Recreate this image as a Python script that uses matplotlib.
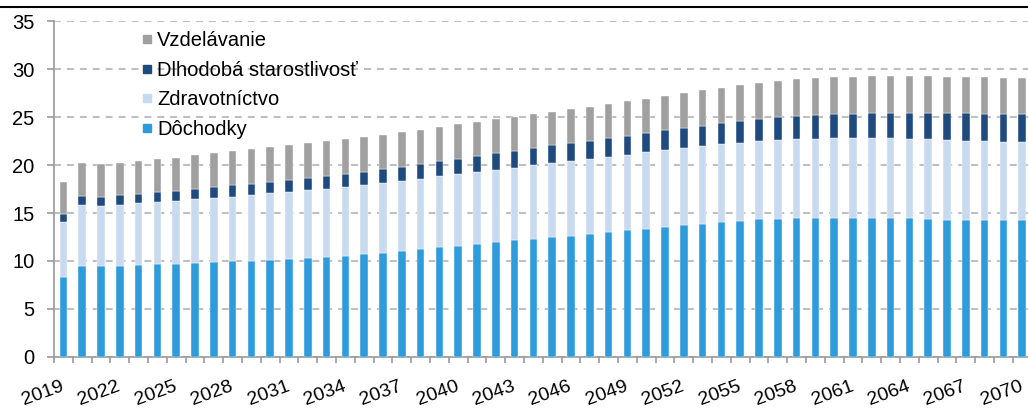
import matplotlib
matplotlib.use("Agg")
import matplotlib.pyplot as plt
import matplotlib.transforms as mtransforms
from matplotlib.lines import Line2D
import numpy as np

plt.rcParams['font.family'] = ['Liberation Sans', 'DejaVu Sans']
plt.rcParams['lines.scale_dashes'] = False

years = list(range(2019, 2071))

dochodky = [8.37, 9.51, 9.51, 9.51, 9.62, 9.72, 9.72, 9.83, 9.90, 10.00,
            10.03, 10.14, 10.24, 10.35, 10.45, 10.56, 10.69, 10.87, 11.00, 11.20,
            11.42, 11.60, 11.80, 11.94, 12.17, 12.33, 12.50, 12.64, 12.85, 13.06,
            13.23, 13.37, 13.58, 13.72, 13.89, 14.10, 14.20, 14.34, 14.41, 14.48,
            14.48, 14.48, 14.48, 14.48, 14.48, 14.45, 14.38, 14.31, 14.31, 14.27,
            14.24, 14.24]
zdravotnictvo = [5.69, 6.36, 6.22, 6.36, 6.42, 6.43, 6.57, 6.59, 6.66, 6.70,
                 6.81, 6.91, 6.95, 7.01, 7.09, 7.11, 7.19, 7.22, 7.33, 7.38,
                 7.40, 7.46, 7.47, 7.54, 7.55, 7.64, 7.67, 7.78, 7.78, 7.77,
                 7.85, 7.95, 7.95, 8.02, 8.06, 8.05, 8.13, 8.16, 8.19, 8.23,
                 8.26, 8.30, 8.33, 8.33, 8.30, 8.29, 8.29, 8.29, 8.22, 8.23,
                 8.19, 8.16]
dlhodoba = [0.84, 0.90, 0.94, 0.97, 0.94, 1.04, 1.04, 1.08, 1.11, 1.18,
            1.18, 1.18, 1.25, 1.32, 1.35, 1.43, 1.43, 1.46, 1.50, 1.56,
            1.60, 1.60, 1.70, 1.77, 1.77, 1.80, 1.88, 1.87, 1.91, 2.02,
            1.99, 2.05, 2.07, 2.15, 2.15, 2.19, 2.25, 2.29, 2.40, 2.39,
            2.47, 2.53, 2.50, 2.61, 2.64, 2.68, 2.75, 2.82, 2.85, 2.81,
            2.88, 2.91]
vzdelavanie = [3.36, 3.40, 3.40, 3.33, 3.40, 3.40, 3.43, 3.51, 3.55, 3.58,
               3.61, 3.65, 3.64, 3.61, 3.61, 3.57, 3.64, 3.58, 3.57, 3.54,
               3.57, 3.58, 3.54, 3.58, 3.54, 3.51, 3.47, 3.51, 3.50, 3.47,
               3.56, 3.54, 3.62, 3.58, 3.68, 3.72, 3.72, 3.75, 3.75, 3.82,
               3.82, 3.82, 3.86, 3.82, 3.85, 3.85, 3.82, 3.78, 3.79, 3.82,
               3.79, 3.72]

labels = ['Dôchodky', 'Zdravotníctvo', 'Dlhodobá starostlivosť', 'Vzdelávanie']
colors = ['#2E9BDC', '#C8DAF0', '#1F4A7E', '#A0A0A0']

W, H = 1028, 412
fig = plt.figure(figsize=(W / 100, H / 100), dpi=100)
left_px, right_px, bottom_px, top_px = 54, 1031.6, 357, 21
ax = fig.add_axes([left_px / W, (H - bottom_px) / H,
                   (right_px - left_px) / W, (bottom_px - top_px) / H])

x = np.arange(len(years))
bottom = np.zeros(len(years))
for vals, lab, col in zip([dochodky, zdravotnictvo, dlhodoba, vzdelavanie], labels, colors):
    ax.bar(x, vals, width=0.4, bottom=bottom, color=col, label=lab,
           edgecolor='white', linewidth=0.3, zorder=3)
    bottom += np.array(vals)

ax.set_xlim(-0.5, len(years) - 0.5)
ax.set_ylim(0, 35)
ax.set_yticks(range(0, 36, 5))
ax.yaxis.grid(True, color='#BFBFBF', linewidth=1.5, linestyle=(0, (5, 4.3)), zorder=0)
ax.set_axisbelow(True)

for s in ['top', 'right']:
    ax.spines[s].set_visible(False)
for s in ['left', 'bottom']:
    ax.spines[s].set_color('#999999')
    ax.spines[s].set_linewidth(1.2)

ax.tick_params(axis='y', length=5, width=1.2, color='#999999', labelsize=14.5, pad=9)
major = x[::3]
ax.set_xticks(major)
ax.set_xticklabels([str(years[i]) for i in major], rotation=20, ha='right',
                   rotation_mode='anchor', fontsize=14)
ax.tick_params(axis='x', which='major', length=0, pad=15)
shift = mtransforms.ScaledTranslation(-3 / 100, 0, fig.dpi_scale_trans)
for lbl in ax.get_xticklabels():
    lbl.set_transform(lbl.get_transform() + shift)
ax.set_xticks(np.arange(-0.5, len(years), 1.0), minor=True)
ax.tick_params(axis='x', which='minor', length=4.5, width=1.2, color='#999999')

leg_handles = [Line2D([], [], marker='s', linestyle='none', markersize=5.3,
                      markerfacecolor=c, markeredgecolor=c) for c in colors]
leg = ax.legend(leg_handles[::-1], labels[::-1], loc='upper left',
                bbox_to_anchor=(0.083, 0.994), frameon=False, fontsize=14.5,
                handlelength=0.4, handleheight=0.7, handletextpad=0.3,
                labelspacing=0.53, borderaxespad=0)

fig.add_artist(Line2D([0, 1], [1 - 7 / H, 1 - 7 / H], color='black', linewidth=1.5,
                      transform=fig.transFigure))

fig.savefig('out.png', dpi=100)
